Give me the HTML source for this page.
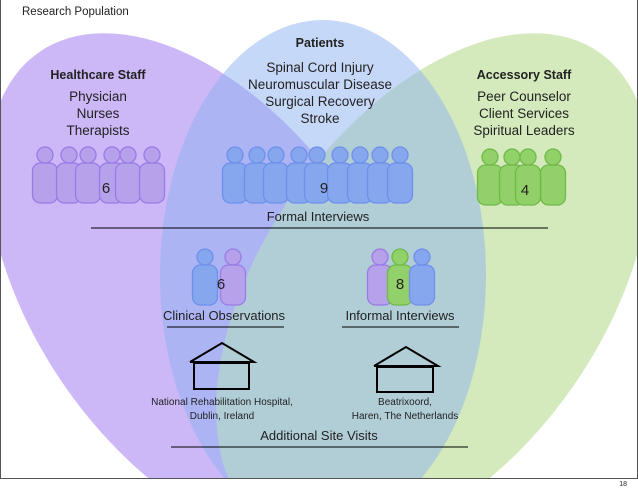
<!DOCTYPE html>
<html><head><meta charset="utf-8"><style>
html,body{margin:0;padding:0;background:#fff}
svg{display:block}
text{font-family:"Liberation Sans",sans-serif;fill:#222}
</style></head><body>
<svg width="638" height="491" viewBox="0 0 638 491" xmlns="http://www.w3.org/2000/svg">
<defs>
<clipPath id="c"><rect x="0" y="0" width="638" height="478"/></clipPath>
<g id="pp"><circle cx="0" cy="0" r="8"/><rect x="-12.5" y="8" width="25" height="40" rx="8"/></g>
</defs>
<rect x="0" y="0" width="638" height="491" fill="#fff"/>
<g clip-path="url(#c)">
<g opacity="0.5">
<ellipse cx="205" cy="290" rx="170" ry="290" transform="rotate(-35 205 290)" fill="#9b71f1"/>
<ellipse cx="433" cy="290" rx="170" ry="290" transform="rotate(35 433 290)" fill="#abd77b"/>
</g>
<ellipse cx="323" cy="275" rx="163" ry="255" fill="#8db1f1" opacity="0.5"/>
</g>
<path d="M0.5 0 V478.5 H637.5 V0" fill="none" stroke="#555" stroke-width="1"/>

<text x="22" y="15" font-size="11.5">Research Population</text>
<text x="320" y="47" font-size="12.5" font-weight="bold" text-anchor="middle">Patients</text>
<g font-size="13.5" text-anchor="middle">
<text x="320" y="72">Spinal Cord Injury</text>
<text x="320" y="89">Neuromuscular Disease</text>
<text x="320" y="106">Surgical Recovery</text>
<text x="320" y="123">Stroke</text>
<text x="98" y="101">Physician</text>
<text x="98" y="118">Nurses</text>
<text x="98" y="135">Therapists</text>
<text x="524" y="101">Peer Counselor</text>
<text x="524" y="118">Client Services</text>
<text x="524" y="135">Spiritual Leaders</text>
</g>
<text x="98" y="79" font-size="12.5" font-weight="bold" text-anchor="middle">Healthcare Staff</text>
<text x="524" y="79" font-size="12.5" font-weight="bold" text-anchor="middle">Accessory Staff</text>

<g fill="#b6a2ea" stroke="#9a7ae6" stroke-width="1.3">
<use href="#pp" x="45" y="155"/><use href="#pp" x="69" y="155"/><use href="#pp" x="88" y="155"/>
<use href="#pp" x="112" y="155"/><use href="#pp" x="128" y="155"/><use href="#pp" x="152" y="155"/>
</g>
<g fill="#86a6ee" stroke="#6e90ea" stroke-width="1.3">
<use href="#pp" x="235" y="155"/><use href="#pp" x="257" y="155"/><use href="#pp" x="276" y="155"/>
<use href="#pp" x="299" y="155"/><use href="#pp" x="317" y="155"/><use href="#pp" x="340" y="155"/>
<use href="#pp" x="360" y="155"/><use href="#pp" x="380" y="155"/><use href="#pp" x="400" y="155"/>
</g>
<g fill="#92d06a" stroke="#70b848" stroke-width="1.3">
<use href="#pp" x="490" y="157"/><use href="#pp" x="512" y="157"/><use href="#pp" x="553" y="157"/><use href="#pp" x="528" y="157"/>
</g>
<g font-size="15" text-anchor="middle">
<text x="106" y="193">6</text><text x="324" y="193">9</text><text x="525" y="195">4</text>
</g>
<text x="318" y="221" font-size="13" text-anchor="middle">Formal Interviews</text>
<line x1="91" y1="228" x2="548" y2="228" stroke="#000" stroke-width="1"/>

<use href="#pp" x="205" y="257" fill="#86a6ee" stroke="#6e90ea" stroke-width="1.3"/>
<use href="#pp" x="233" y="257" fill="#b6a2ea" stroke="#9a7ae6" stroke-width="1.3"/>
<use href="#pp" x="380" y="257" fill="#b6a2ea" stroke="#9a7ae6" stroke-width="1.3"/>
<use href="#pp" x="400" y="257" fill="#92d06a" stroke="#70b848" stroke-width="1.3"/>
<use href="#pp" x="422" y="257" fill="#86a6ee" stroke="#6e90ea" stroke-width="1.3"/>
<text x="221" y="289" font-size="15" text-anchor="middle">6</text>
<text x="400" y="289" font-size="15" text-anchor="middle">8</text>
<text x="224" y="320" font-size="13" text-anchor="middle">Clinical Observations</text>
<text x="400" y="320" font-size="13" text-anchor="middle">Informal Interviews</text>
<line x1="167" y1="327" x2="284" y2="327" stroke="#000" stroke-width="1"/>
<line x1="342" y1="327" x2="459" y2="327" stroke="#000" stroke-width="1"/>

<g fill="none" stroke="#000" stroke-width="2">
<polyline points="190,362 222,343 254,362 190,362"/>
<rect x="194" y="363" width="55" height="26"/>
<polyline points="374,366 406,347 438,366 374,366"/>
<rect x="377" y="367" width="56" height="25"/>
</g>
<g font-size="10" text-anchor="middle">
<text x="222" y="405">National Rehabilitation Hospital,</text>
<text x="222" y="419">Dublin, Ireland</text>
<text x="405" y="405">Beatrixoord,</text>
<text x="405" y="419">Haren, The Netherlands</text>
</g>
<text x="319" y="440" font-size="13" text-anchor="middle">Additional Site Visits</text>
<line x1="171" y1="447" x2="468" y2="447" stroke="#000" stroke-width="1"/>
<text x="627" y="486" font-size="7" text-anchor="end">18</text>
</svg>
</body></html>
